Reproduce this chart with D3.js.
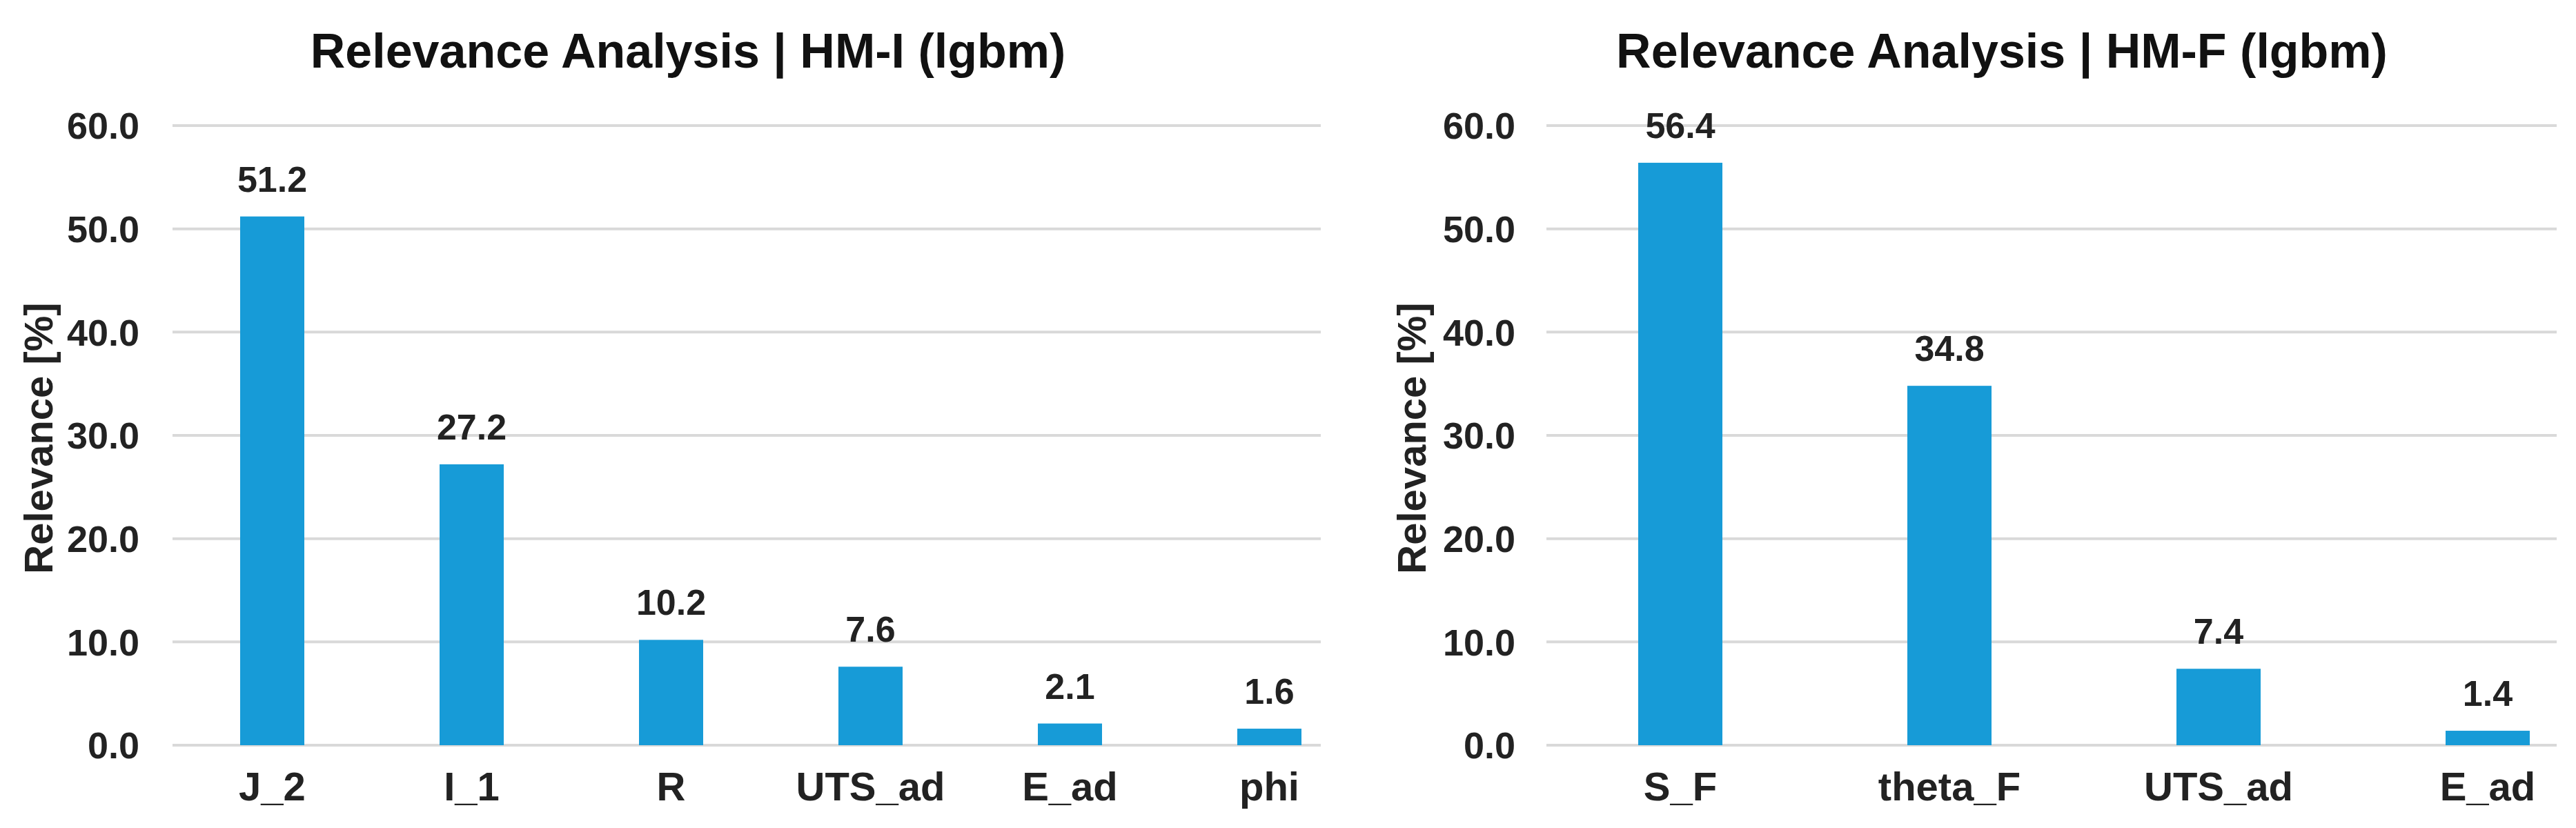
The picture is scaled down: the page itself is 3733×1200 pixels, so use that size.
<!DOCTYPE html>
<html><head><meta charset="utf-8">
<script src="https://cdn.jsdelivr.net/npm/d3@7/dist/d3.min.js"></script>
<style>body{margin:0;background:#fff}</style></head>
<body><svg id="c" width="3733" height="1200"></svg>
<script>
const leftTitle = "Relevance Analysis | HM-I (lgbm)";
const leftCats = ["J_2","I_1","R","UTS_ad","E_ad","phi"];
const leftVals = [51.2,27.2,10.2,7.6,2.1,1.6];
const rightTitle = "Relevance Analysis | HM-F (lgbm)";
const rightCats = ["S_F","theta_F","UTS_ad","E_ad"];
const rightVals = [56.4,34.8,7.4,1.4];
const yTicks = [0,10,20,30,40,50,60];
const yLabel = "Relevance [%]";

const svg = d3.select("#c");
const narrow = "'Liberation Sans Narrow','Arial Narrow',Arial,'Liberation Sans',sans-serif";
const wide = "Arial,'Liberation Sans',sans-serif";

function panel(o){
  const g = svg.append("g");
  const y = d3.scaleLinear().domain([0,60]).range([1080,182]);
  const x = d3.scaleBand().domain(o.cats).range(o.range).paddingInner(0).paddingOuter(0);
  g.selectAll(".grid").data(yTicks).join("line")
    .attr("x1",o.gx[0]).attr("x2",o.gx[1]).attr("y1",d=>y(d)).attr("y2",d=>y(d))
    .attr("stroke","#d9d9d9").attr("stroke-width",4);
  const ax = g.append("g").attr("transform",`translate(${o.gx[0]},0)`)
    .call(d3.axisLeft(y).tickValues(yTicks).tickFormat(d3.format(".1f")).tickSize(0).tickPadding(o.tickPad));
  ax.select(".domain").remove();
  ax.selectAll("text").attr("font-family",narrow).attr("font-weight","bold").attr("font-size",54).attr("fill","#222").attr("dy","0.35em");
  g.selectAll(".bar").data(o.vals).join("rect")
    .attr("x",(d,i)=>x(o.cats[i])+x.bandwidth()/2-o.bw/2).attr("width",o.bw)
    .attr("y",d=>y(d)).attr("height",d=>y(0)-y(d)).attr("fill","#179BD7");
  g.selectAll(".val").data(o.vals).join("text")
    .attr("x",(d,i)=>x(o.cats[i])+x.bandwidth()/2).attr("y",d=>y(d)-36)
    .attr("text-anchor","middle").attr("font-family",narrow).attr("font-weight","bold")
    .attr("font-size",52).attr("fill","#222").text(d=>d.toFixed(1));
  g.selectAll(".cat").data(o.cats).join("text")
    .attr("x",d=>x(d)+x.bandwidth()/2).attr("y",1160)
    .attr("text-anchor","middle").attr("font-family",narrow).attr("font-weight","bold")
    .attr("font-size",58).attr("fill","#222").text(d=>d);
  g.append("text").attr("x",o.tx).attr("y",98).attr("text-anchor","middle")
    .attr("font-family",narrow).attr("font-weight","bold").attr("font-size",70)
    .attr("fill","#111").text(o.title);
  g.append("text").attr("transform",`translate(${o.lx},635) rotate(-90)`)
    .attr("text-anchor","middle").attr("font-family",wide).attr("font-weight","bold")
    .attr("font-size",58).attr("fill","#222").text(yLabel);
}
panel({cats:leftCats, vals:leftVals, title:leftTitle, range:[250,1984], gx:[250,1914], bw:93, tx:997, lx:76, tickPad:48});
panel({cats:rightCats, vals:rightVals, title:rightTitle, range:[2240,3800], gx:[2241,3705], bw:122, tx:2901, lx:2066, tickPad:45});
</script></body></html>
